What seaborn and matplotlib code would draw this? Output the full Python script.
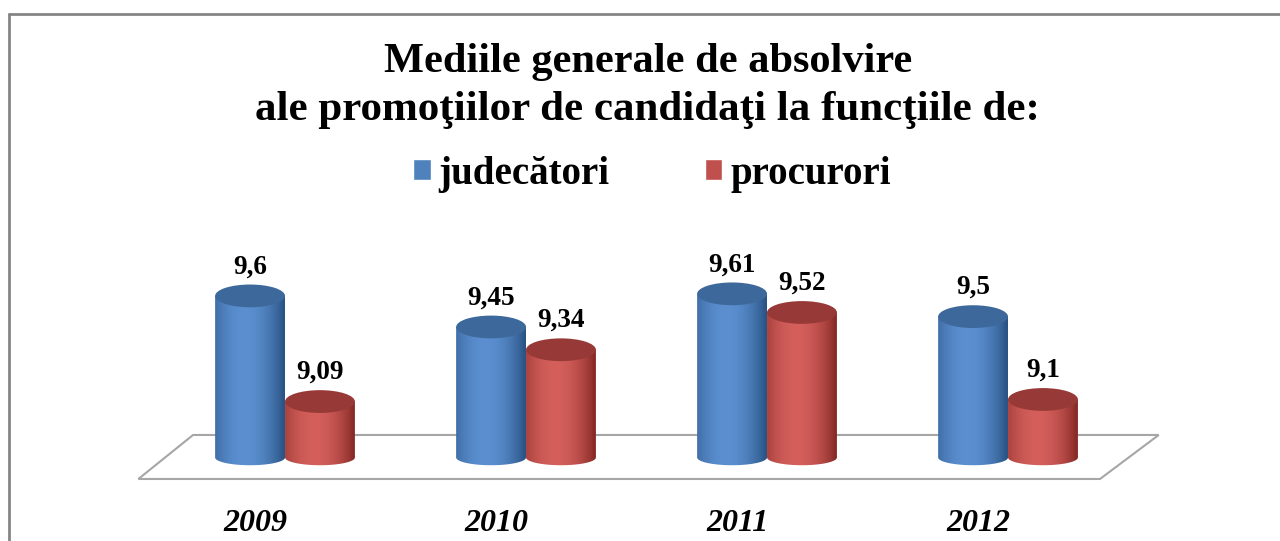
import numpy as np
import pandas as pd
import seaborn as sns
import matplotlib.pyplot as plt
import matplotlib.transforms as mtransforms
from matplotlib.patches import Ellipse, Polygon, PathPatch
from matplotlib.path import Path
from matplotlib.lines import Line2D
from matplotlib.colors import to_rgb

# date
ani = ["2009", "2010", "2011", "2012"]
judecatori = [9.6, 9.45, 9.61, 9.5]
procurori = [9.09, 9.34, 9.52, 9.1]
categorii = ["judecători", "procurori"]

df = pd.DataFrame({
    "An": ani * 2,
    "Categorie": [categorii[0]] * 4 + [categorii[1]] * 4,
    "Medie": judecatori + procurori,
})

culori = {"judecători": "#4f81bd", "procurori": "#c0504d"}
# margine, mijloc, capac
umbre = {"judecători": ("#2a5485", "#5b8fd0", "#3d689b"),
         "procurori": ("#872a27", "#d45f5b", "#973a37")}

sns.set_style("white")
plt.rcParams["font.family"] = ["Liberation Serif", "DejaVu Serif"]
plt.rcParams["text.color"] = "black"
plt.rcParams["xtick.color"] = "black"

fig = plt.figure(figsize=(12.8, 5.41), dpi=100)
ax = fig.add_axes([0.1097, 0.0943, 0.7908, 0.4621])
sns.barplot(data=df, x="An", y="Medie", hue="Categorie", palette=culori,
            width=0.58, saturation=1, ax=ax)

# cilindri
baza = 8.82
h_sus = 0.11
h_jos = 0.075
t = np.linspace(0, 1, 200)
s = np.clip(np.cos((t - 0.42) * np.pi * 0.9), 0, 1) ** 0.8
for cont, cat in zip(ax.containers, categorii):
    dark, light, cap = [np.array(to_rgb(c)) for c in umbre[cat]]
    grad = dark + (light - dark) * s[:, None]
    img = np.repeat(grad[None, :, :], 2, axis=0)
    for bar in cont:
        x0, w, v = bar.get_x(), bar.get_width(), bar.get_height()
        cx = x0 + w / 2
        bar.set_visible(False)
        th = np.linspace(np.pi, 2 * np.pi, 60)
        arc = np.column_stack([cx + w / 2 * np.cos(th), baza + h_jos / 2 * np.sin(th)])
        verts = np.vstack([[x0, v], arc, [x0 + w, v], [x0, v]])
        clip = PathPatch(Path(verts, closed=True), transform=ax.transData,
                         facecolor="none", edgecolor="none")
        ax.add_patch(clip)
        im = ax.imshow(img, extent=[x0, x0 + w, baza - h_jos, v], aspect="auto",
                       origin="lower", zorder=3, interpolation="bilinear")
        im.set_clip_path(clip)
        ax.add_patch(Ellipse((cx, v), w, h_sus, facecolor=cap, edgecolor="none", zorder=4))
        ax.annotate(f"{v:g}".replace(".", ","), (cx, v), xytext=(0, 21),
                    textcoords="offset points", ha="center", va="center",
                    fontsize=19.5, fontweight="bold", zorder=5)

# podea
podea = Polygon([[0.052, 0.22], [1.006, 0.22], [0.948, 0.044], [-0.002, 0.044]],
                closed=True, transform=ax.transAxes, facecolor="white",
                edgecolor="#a6a6a6", lw=1.5, zorder=1, clip_on=False)
ax.add_patch(podea)

ax.set_xlim(-0.6, 3.6)
ax.set_ylim(8.663, 9.870)
ax.set_yticks([])
ax.set_xlabel("")
ax.set_ylabel("")
sns.despine(ax=ax, left=True, bottom=True)
ax.tick_params(axis="x", length=0, pad=14)
offset = mtransforms.ScaledTranslation(-0.30, 0, fig.dpi_scale_trans)
for lbl in ax.get_xticklabels():
    lbl.set_fontsize(23)
    lbl.set_fontweight("bold")
    lbl.set_fontstyle("italic")
    lbl.set_transform(lbl.get_transform() + offset)

sns.move_legend(ax, "center", bbox_to_anchor=(652 / 1280, 1 - 174 / 541),
                bbox_transform=fig.transFigure, ncol=2, frameon=False, title=None,
                prop={"size": 28, "weight": "bold"}, handlelength=0.45,
                handleheight=0.45, handletextpad=0.2, columnspacing=2.45)

fig.text(0.506, 1 - 62 / 541, "Mediile generale de absolvire", ha="center",
         va="center", fontsize=30.5, fontweight="bold")
fig.text(0.506, 1 - 110 / 541, "ale promoţiilor de candidaţi la funcţiile de:",
         ha="center", va="center", fontsize=31, fontweight="bold")

# chenar
fig.add_artist(Line2D([0.007, 0.007], [0, 0.974], transform=fig.transFigure,
                      color="#858585", lw=2))
fig.add_artist(Line2D([0.007, 1.0], [0.974, 0.974], transform=fig.transFigure,
                      color="#858585", lw=2))

fig.savefig("out.png", dpi=100)
